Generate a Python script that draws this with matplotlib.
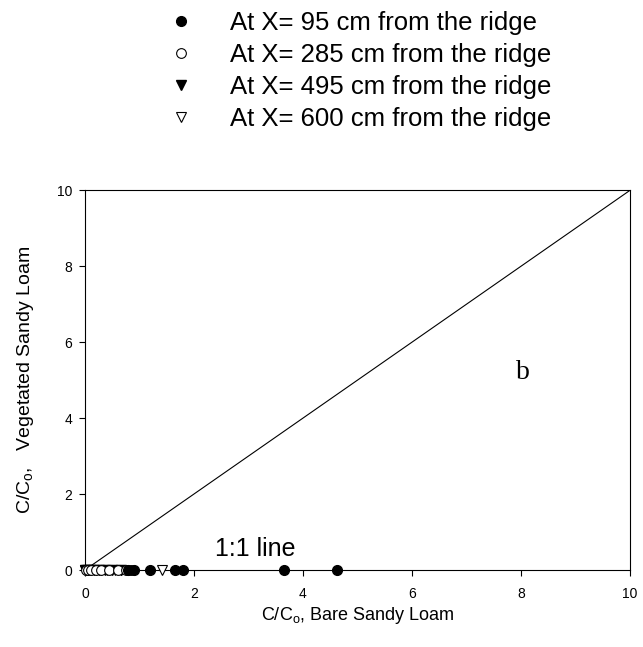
import matplotlib
matplotlib.use("Agg")
import matplotlib.pyplot as plt
from matplotlib.lines import Line2D

plt.rcParams['font.family'] = ['Liberation Sans', 'DejaVu Sans']
plt.rcParams['mathtext.default'] = 'regular'

# Relative concentrations, bare (x) vs vegetated (y) sandy loam
x95 = [0.80, 0.90, 1.19, 1.65, 1.80, 3.65, 4.62]
y95 = [0, 0, 0, 0, 0, 0, 0]
x285 = [0.02, 0.06, 0.12, 0.20, 0.30, 0.45, 0.60, 0.75, 0.85]
y285 = [0, 0, 0, 0, 0, 0, 0, 0, 0]
x495 = [0.01, 0.04, 0.09, 0.16, 0.25, 0.36, 0.50, 0.66]
y495 = [0, 0, 0, 0, 0, 0, 0, 0]
x600 = [0.00, 0.05, 0.12, 0.20, 0.30, 0.40, 0.55, 0.66, 1.41]
y600 = [0, 0, 0, 0, 0, 0, 0, 0, 0]

series_labels = ['At X= 95 cm from the ridge', 'At X= 285 cm from the ridge',
                 'At X= 495 cm from the ridge', 'At X= 600 cm from the ridge']
ticks = [0, 2, 4, 6, 8, 10]
one_to_one = [0, 10]

fig = plt.figure(figsize=(6.43, 6.47), dpi=100)
ax = fig.add_axes([0.132, 0.119, 0.848, 0.587])

ax.plot(one_to_one, one_to_one, color='black', lw=0.8)

ax.plot(x600, y600, linestyle='none', marker='v', ms=6.5, mfc='white', mec='black', mew=0.8, clip_on=False, zorder=3)
ax.plot(x495, y495, linestyle='none', marker='v', ms=6.5, mfc='black', mec='black', clip_on=False, zorder=3)
ax.plot(x285, y285, linestyle='none', marker='o', ms=7, mfc='white', mec='black', mew=0.8, clip_on=False, zorder=3)
ax.plot(x95, y95, linestyle='none', marker='o', ms=7, mfc='black', mec='black', clip_on=False, zorder=4)

ax.set_xlim(0, 10)
ax.set_ylim(0, 10)
ax.set_xticks(ticks)
ax.set_yticks(ticks)
ax.tick_params(direction='out', labelsize=10, length=4, width=0.8, top=False, right=False)
ax.tick_params(axis='x', pad=8)
ax.tick_params(axis='y', pad=5)
for s in ax.spines.values():
    s.set_linewidth(0.8)

ax.set_xlabel('C/C$_o$, Bare Sandy Loam', fontsize=13, labelpad=3)
ax.set_ylabel('C/C$_o$,   Vegetated Sandy Loam', fontsize=14, labelpad=15)

ax.text(2.39, 0.37, '1:1 line', fontsize=18, ha='left', va='baseline')
ax.text(8.04, 5.2, 'b', fontsize=20, family=['Liberation Serif', 'DejaVu Serif'], ha='center', va='center')

handles = [
    Line2D([], [], linestyle='none', marker='o', ms=7, mfc='black', mec='black'),
    Line2D([], [], linestyle='none', marker='o', ms=7, mfc='white', mec='black', mew=0.8),
    Line2D([], [], linestyle='none', marker='v', ms=7, mfc='black', mec='black'),
    Line2D([], [], linestyle='none', marker='v', ms=7, mfc='white', mec='black', mew=0.8),
]
fig.legend(handles, series_labels, loc='upper left', bbox_to_anchor=(0.226, 1.018),
           frameon=False, fontsize=18.5, handlelength=1.0, handletextpad=1.4,
           labelspacing=0.31)

fig.savefig('out.png', dpi=100)
